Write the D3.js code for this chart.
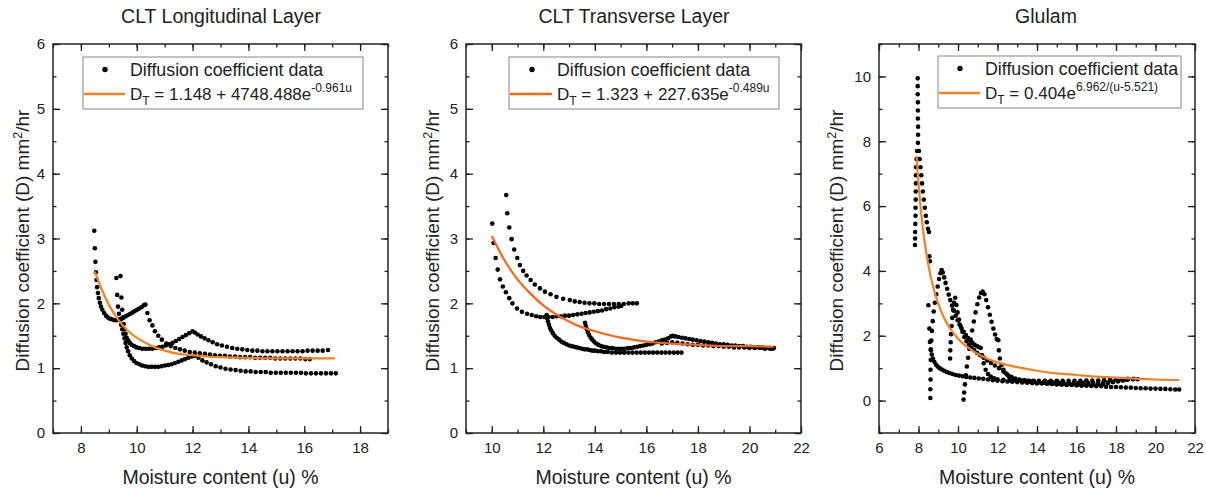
<!DOCTYPE html>
<html>
<head>
<meta charset="utf-8">
<script src="https://cdn.jsdelivr.net/npm/d3@7"></script>
<style>
  body { margin: 0; background: #fff; }
  text { font-family: "Liberation Sans", Arial, sans-serif; fill: #222; }
</style>
</head>
<body>
<div id="cnt"></div>
<script>
let ancho = 1206;
let largo = 491;

// ---- datos: CLT longitudinal ----
let lonS1 = [[8.48,3.12],[8.50,2.85],[8.52,2.64],[8.54,2.48],[8.56,2.36],[8.58,2.25],[8.61,2.16],[8.64,2.08],[8.68,2.01],[8.72,1.95],[8.77,1.90],[8.83,1.85],[8.90,1.81],[8.97,1.78],[9.05,1.76],[9.13,1.75],[9.21,1.74],[9.29,1.74],[9.37,1.75],[9.45,1.76],[9.53,1.78],[9.61,1.80],[9.69,1.82],[9.77,1.84],[9.85,1.86],[9.93,1.88],[10.01,1.90],[10.09,1.92],[10.17,1.94],[10.25,1.97],[10.31,1.98],[10.38,1.85],[10.46,1.74],[10.56,1.66],[10.65,1.57],[10.77,1.50],[10.90,1.44],[11.06,1.38],[11.22,1.34],[11.38,1.31],[11.55,1.29],[11.72,1.27],[11.90,1.25],[12.08,1.24],[12.26,1.23],[12.44,1.22],[12.62,1.21],[12.80,1.20],[12.98,1.19],[13.16,1.19],[13.34,1.18],[13.52,1.18],[13.70,1.17],[13.88,1.17],[14.06,1.17],[14.24,1.16],[14.42,1.16],[14.60,1.16],[14.78,1.16],[14.96,1.15],[15.14,1.15],[15.32,1.15],[15.50,1.15],[15.68,1.15],[15.86,1.15],[16.04,1.14],[16.20,1.14]];
let lonS2 = [[9.27,2.39],[9.30,2.13],[9.33,1.95],[9.36,1.84],[9.40,1.75],[9.44,1.67],[9.48,1.60],[9.52,1.53],[9.56,1.46],[9.60,1.39],[9.64,1.32],[9.69,1.26],[9.75,1.20],[9.82,1.15],[9.90,1.11],[9.99,1.08],[10.09,1.06],[10.19,1.04],[10.30,1.03],[10.41,1.02],[10.53,1.02],[10.65,1.02],[10.77,1.02],[10.89,1.03],[11.01,1.04],[11.13,1.05],[11.25,1.06],[11.37,1.08],[11.49,1.10],[11.61,1.12],[11.73,1.14],[11.85,1.16],[11.97,1.18],[12.09,1.19],[12.21,1.16],[12.35,1.12],[12.50,1.09],[12.66,1.06],[12.83,1.03],[13.00,1.01],[13.18,0.99],[13.36,0.98],[13.54,0.97],[13.72,0.96],[13.90,0.95],[14.08,0.95],[14.26,0.94],[14.44,0.94],[14.62,0.94],[14.80,0.93],[14.98,0.93],[15.16,0.93],[15.34,0.93],[15.52,0.93],[15.70,0.93],[15.88,0.93],[16.06,0.92],[16.24,0.92],[16.42,0.92],[16.60,0.92],[16.78,0.92],[16.96,0.92],[17.13,0.92]];
let lonS3 = [[9.42,2.42],[9.45,2.09],[9.48,1.90],[9.50,1.78],[9.53,1.68],[9.56,1.60],[9.60,1.53],[9.64,1.47],[9.69,1.43],[9.75,1.39],[9.82,1.36],[9.90,1.34],[9.99,1.32],[10.09,1.31],[10.20,1.30],[10.32,1.30],[10.44,1.30],[10.56,1.30],[10.68,1.31],[10.80,1.32],[10.92,1.33],[11.04,1.35],[11.16,1.37],[11.28,1.39],[11.40,1.42],[11.52,1.45],[11.64,1.48],[11.76,1.51],[11.88,1.54],[12.00,1.57],[12.08,1.55],[12.18,1.52],[12.30,1.49],[12.43,1.46],[12.57,1.43],[12.72,1.40],[12.88,1.37],[13.05,1.35],[13.23,1.33],[13.42,1.31],[13.60,1.30],[13.78,1.29],[13.96,1.28],[14.14,1.27],[14.32,1.27],[14.50,1.26],[14.68,1.26],[14.86,1.26],[15.04,1.26],[15.22,1.26],[15.40,1.26],[15.58,1.26],[15.76,1.26],[15.94,1.26],[16.12,1.27],[16.30,1.27],[16.48,1.27],[16.66,1.27],[16.85,1.28]];
let lonFit = [[8.5,2.49],[8.75,2.21],[9,1.98],[9.25,1.80],[9.5,1.66],[9.75,1.55],[10,1.47],[10.5,1.35],[11,1.27],[11.5,1.22],[12,1.20],[12.5,1.18],[13,1.17],[14,1.16],[15,1.15],[16,1.15],[17.1,1.15]];

// ---- datos: CLT transversal ----
let trvS1 = [[10.02,3.23],[10.07,2.93],[10.15,2.70],[10.23,2.52],[10.32,2.37],[10.43,2.26],[10.55,2.17],[10.68,2.08],[10.80,2.00],[10.98,1.92],[11.17,1.87],[11.37,1.84],[11.55,1.82],[11.72,1.80],[11.88,1.79],[12.04,1.79],[12.20,1.79],[12.36,1.79],[12.52,1.80],[12.68,1.80],[12.84,1.81],[13.00,1.81],[13.16,1.82],[13.32,1.83],[13.48,1.84],[13.64,1.85],[13.80,1.86],[13.96,1.87],[14.12,1.88],[14.28,1.89],[14.44,1.91],[14.60,1.92],[14.76,1.94],[14.92,1.95],[15.02,1.96]];
let trvS2 = [[10.56,3.67],[10.60,3.39],[10.68,3.17],[10.77,2.99],[10.87,2.83],[10.99,2.70],[11.09,2.59],[11.22,2.50],[11.35,2.43],[11.51,2.36],[11.67,2.29],[11.87,2.23],[12.06,2.18],[12.28,2.14],[12.51,2.10],[12.77,2.07],[13.03,2.05],[13.22,2.03],[13.41,2.02],[13.60,2.01],[13.79,2.00],[13.98,2.00],[14.17,1.99],[14.36,1.99],[14.55,1.99],[14.74,1.99],[14.93,1.99],[15.12,1.99],[15.31,2.00],[15.47,2.00],[15.63,2.00]];
let trvS3 = [[12.13,1.82],[12.15,1.77],[12.18,1.72],[12.22,1.67],[12.26,1.62],[12.31,1.58],[12.37,1.54],[12.44,1.50],[12.52,1.47],[12.61,1.44],[12.70,1.41],[12.80,1.39],[12.90,1.37],[13.00,1.35],[13.10,1.34],[13.20,1.33],[13.30,1.32],[13.40,1.31],[13.50,1.30],[13.60,1.29],[13.70,1.29],[13.80,1.28],[13.90,1.27],[14.00,1.27],[14.12,1.26],[14.24,1.26],[14.36,1.25],[14.50,1.25],[14.66,1.24],[14.82,1.24],[14.98,1.24],[15.14,1.24],[15.30,1.24],[15.46,1.24],[15.62,1.24],[15.78,1.24],[15.94,1.24],[16.10,1.24],[16.26,1.24],[16.42,1.24],[16.58,1.24],[16.74,1.24],[16.90,1.24],[17.06,1.24],[17.21,1.24],[17.36,1.24]];
let trvS4 = [[13.62,1.70],[13.65,1.65],[13.69,1.60],[13.73,1.55],[13.78,1.51],[13.84,1.47],[13.90,1.44],[13.97,1.41],[14.05,1.38],[14.14,1.36],[14.24,1.34],[14.34,1.33],[14.45,1.32],[14.56,1.31],[14.68,1.31],[14.80,1.30],[14.92,1.30],[15.04,1.30],[15.16,1.30],[15.28,1.31],[15.40,1.31],[15.52,1.32],[15.64,1.33],[15.76,1.34],[15.88,1.35],[16.00,1.36],[16.12,1.37],[16.24,1.38],[16.36,1.40],[16.48,1.41],[16.60,1.43],[16.72,1.44],[16.84,1.46],[16.96,1.49],[17.02,1.50],[17.12,1.49],[17.24,1.48],[17.38,1.47],[17.52,1.46],[17.66,1.45],[17.80,1.44],[17.95,1.43],[18.10,1.42],[18.25,1.41],[18.40,1.40],[18.55,1.39],[18.70,1.38],[18.85,1.37],[19.00,1.37],[19.15,1.36],[19.30,1.35],[19.45,1.35],[19.60,1.34],[19.75,1.34],[19.90,1.33],[20.05,1.33],[20.20,1.32],[20.35,1.32],[20.50,1.32],[20.65,1.31],[20.80,1.31],[20.95,1.31]];
let trvS5 = [[16.6,1.38],[16.8,1.39],[17.0,1.40],[17.2,1.39],[17.4,1.38],[17.6,1.37],[17.8,1.36],[18.0,1.36],[18.2,1.35],[18.4,1.35],[18.6,1.34],[18.8,1.34],[19.0,1.33],[19.2,1.33],[19.4,1.32],[19.6,1.32],[19.8,1.32],[20.0,1.31],[20.2,1.31],[20.4,1.31],[20.6,1.30],[20.8,1.30],[20.9,1.30]];
let trvFit = [[10,3.04],[10.5,2.66],[11,2.37],[11.5,2.15],[12,1.97],[12.5,1.83],[13,1.72],[13.5,1.63],[14,1.57],[15,1.47],[16,1.41],[17,1.38],[18,1.36],[19,1.34],[20,1.34],[20.95,1.33]];

// ---- datos: Glulam ----
let gluS1 = [[7.96,9.94],[7.96,9.70],[7.96,9.45],[7.97,9.20],[7.97,8.95],[7.97,8.70],[7.98,8.45],[7.98,8.20],[7.97,7.95],[7.93,7.70],[7.90,7.45],[7.88,7.20],[7.87,6.95],[7.87,6.70],[7.86,6.45],[7.86,6.20],[7.85,5.95],[7.85,5.70],[7.84,5.45],[7.83,5.20],[7.83,5.00],[7.82,4.80],[8.02,7.70],[8.06,7.45],[8.10,7.20],[8.14,6.95],[8.18,6.70],[8.22,6.45],[8.27,6.20],[8.32,5.95],[8.37,5.70],[8.42,5.50],[8.48,5.30],[8.53,5.20],[8.55,4.45],[8.58,4.30]];
let gluS2 = [[8.60,0.08],[8.60,0.35],[8.61,0.65],[8.61,0.95],[8.62,1.25],[8.63,1.55],[8.65,1.85],[8.68,2.15],[8.72,2.45],[8.77,2.75],[8.83,3.02],[8.90,3.28],[8.97,3.52],[9.04,3.75],[9.11,3.93],[9.17,4.03],[9.23,3.95],[9.30,3.80],[9.37,3.63],[9.45,3.45],[9.53,3.27],[9.61,3.10],[9.70,2.93],[9.79,2.77],[9.88,2.62],[9.98,2.48],[10.08,2.35],[10.18,2.23],[10.29,2.12],[10.40,2.02],[10.51,1.93],[10.62,1.85],[10.73,1.78],[10.84,1.72],[10.95,1.68],[11.06,1.65],[11.15,1.62],[11.22,1.40],[11.30,1.15],[11.40,0.95],[11.52,0.82],[11.66,0.74],[11.82,0.69],[12.00,0.66],[12.30,0.64],[12.60,0.63],[12.90,0.62],[13.20,0.62],[13.50,0.61],[13.80,0.61],[14.10,0.61],[14.40,0.61],[14.70,0.61],[15.00,0.61],[15.30,0.61],[15.60,0.61],[15.90,0.61],[16.20,0.61],[16.50,0.62],[16.80,0.62],[17.10,0.62],[17.40,0.63],[17.70,0.64],[18.00,0.65],[18.30,0.66],[18.60,0.67],[18.90,0.67]];
let gluS3 = [[8.50,2.94],[8.55,2.22],[8.58,1.81],[8.62,1.58],[8.67,1.42],[8.73,1.30],[8.80,1.20],[8.88,1.11],[8.97,1.05],[9.07,1.00],[9.18,0.96],[9.30,0.92],[9.43,0.88],[9.57,0.85],[9.72,0.82],[9.88,0.79],[10.05,0.77],[10.23,0.75],[10.42,0.73],[10.62,0.71],[10.83,0.70],[11.05,0.68],[11.28,0.67],[11.52,0.65],[11.76,0.63],[12.00,0.61],[12.25,0.60],[12.50,0.59],[12.75,0.58],[13.00,0.57],[13.25,0.56],[13.50,0.55],[13.75,0.54],[14.00,0.53],[14.25,0.53],[14.50,0.52],[14.75,0.51],[15.00,0.50],[15.25,0.49],[15.50,0.48],[15.75,0.48],[16.00,0.47],[16.25,0.46],[16.50,0.46],[16.75,0.45],[17.00,0.44],[17.25,0.44],[17.50,0.43],[17.75,0.42],[18.00,0.42],[18.25,0.41],[18.50,0.40],[18.75,0.40],[19.00,0.39],[19.25,0.38],[19.50,0.38],[19.75,0.37],[20.00,0.37],[20.25,0.36],[20.50,0.36],[20.75,0.35],[21.00,0.34],[21.20,0.34]];
let gluS4 = [[9.60,1.30],[9.61,1.55],[9.63,1.80],[9.65,2.05],[9.68,2.30],[9.71,2.55],[9.75,2.80],[9.80,3.02],[9.86,3.17],[9.92,2.95],[9.98,2.72],[10.05,2.50],[10.13,2.30],[10.22,2.12],[10.32,1.96],[10.43,1.83],[10.55,1.72],[10.68,1.63],[10.82,1.55],[10.97,1.47],[11.13,1.40],[11.30,1.32],[11.48,1.24],[11.67,1.16],[11.87,1.08],[12.08,1.00],[12.30,0.90],[12.50,0.80],[12.70,0.73],[12.90,0.68],[13.10,0.65],[13.35,0.63],[13.60,0.61],[13.85,0.60],[14.10,0.59],[14.35,0.58],[14.60,0.57],[14.85,0.56],[15.10,0.56],[15.35,0.55],[15.60,0.55],[15.85,0.54],[16.10,0.54],[16.35,0.54],[16.60,0.54],[16.85,0.54],[17.10,0.54],[17.35,0.55],[17.60,0.56],[17.85,0.58],[18.10,0.60],[18.35,0.62],[18.55,0.64]];
let gluS5 = [[10.28,0.03],[10.31,0.25],[10.35,0.50],[10.40,0.78],[10.45,1.05],[10.51,1.32],[10.57,1.60],[10.64,1.88],[10.72,2.16],[10.80,2.44],[10.89,2.72],[10.98,2.97],[11.07,3.18],[11.16,3.32],[11.25,3.36],[11.34,3.28],[11.43,3.10],[11.52,2.88],[11.61,2.65],[11.70,2.43],[11.79,2.22],[11.88,2.04],[11.96,1.90],[12.04,1.86],[12.07,1.55],[12.12,1.30],[12.20,1.10],[12.30,0.95],[12.42,0.84],[12.56,0.76],[12.72,0.70],[12.90,0.66],[13.10,0.63],[13.35,0.60],[13.60,0.58],[13.85,0.57],[14.10,0.56],[14.35,0.55],[14.60,0.54],[14.85,0.53],[15.10,0.52],[15.35,0.52],[15.60,0.51],[15.85,0.51],[16.10,0.50],[16.35,0.50],[16.60,0.50],[16.85,0.50],[17.10,0.51],[17.35,0.52],[17.60,0.54],[17.85,0.57],[18.10,0.60],[18.35,0.63],[18.60,0.65],[18.85,0.66],[19.10,0.66]];
let gluFit = [[7.9,7.54],[8.0,6.70],[8.1,6.01],[8.2,5.43],[8.35,4.73],[8.5,4.18],[8.75,3.49],[9.0,2.99],[9.25,2.61],[9.5,2.32],[9.75,2.10],[10,1.91],[10.5,1.64],[11,1.44],[11.5,1.29],[12,1.18],[13,1.03],[14,0.92],[15,0.84],[16,0.79],[17,0.74],[18,0.71],[19,0.68],[20,0.65],[21.2,0.63]];

// ---- ticks y textos ----
let lonXTicks = [8,10,12,14,16,18];
let trvXTicks = [10,12,14,16,18,20,22];
let gluXTicks = [6,8,10,12,14,16,18,20,22];
let cltYTicks = [0,1,2,3,4,5,6];
let gluYTicks = [0,2,4,6,8,10];
let titulos = ["CLT Longitudinal Layer", "CLT Transverse Layer", "Glulam"];
let legDatos = "Diffusion coefficient data";
let lonEq = [["D",""],["T","sub"],[" = 1.148 + 4748.488e",""],["-0.961u","sup"]];
let trvEq = [["D",""],["T","sub"],[" = 1.323 + 227.635e",""],["-0.489u","sup"]];
let gluEq = [["D",""],["T","sub"],[" = 0.404e",""],["6.962/(u-5.521)","sup"]];

let svg = d3.select('#cnt')
    .append("svg")
    .attr('width', ancho)
    .attr('height', largo)

function panel(cfg) {
    let x = d3.scaleLinear().domain(cfg.xd).range([cfg.l, cfg.r]);
    let y = d3.scaleLinear().domain(cfg.yd).range([cfg.b, cfg.t]);
    let g = svg.append("g");
    let xMinor = d3.range(cfg.xd[0], cfg.xd[1] + 0.001, cfg.xm);
    let yMinor = d3.range(cfg.yd[0], cfg.yd[1] + 0.001, cfg.ym);

    //ticks menores (hacia adentro, 4 lados)
    g.append("g").attr("transform", `translate(0,${cfg.b})`)
        .call(d3.axisBottom(x).tickValues(xMinor).tickSize(-3.5).tickFormat(""));
    g.append("g").attr("transform", `translate(0,${cfg.t})`)
        .call(d3.axisTop(x).tickValues(xMinor).tickSize(-3.5).tickFormat(""));
    g.append("g").attr("transform", `translate(${cfg.l},0)`)
        .call(d3.axisLeft(y).tickValues(yMinor).tickSize(-3.5).tickFormat(""));
    g.append("g").attr("transform", `translate(${cfg.r},0)`)
        .call(d3.axisRight(y).tickValues(yMinor).tickSize(-3.5).tickFormat(""));

    //ticks mayores
    g.append("g").attr("class", "ax").attr("transform", `translate(0,${cfg.b})`)
        .call(d3.axisBottom(x).tickValues(cfg.xt).tickSize(-7).tickPadding(9).tickFormat(d3.format("d")));
    g.append("g").attr("transform", `translate(0,${cfg.t})`)
        .call(d3.axisTop(x).tickValues(cfg.xt).tickSize(-7).tickFormat(""));
    g.append("g").attr("class", "ax").attr("transform", `translate(${cfg.l},0)`)
        .call(d3.axisLeft(y).tickValues(cfg.yt).tickSize(-7).tickPadding(8).tickFormat(d3.format("d")));
    g.append("g").attr("transform", `translate(${cfg.r},0)`)
        .call(d3.axisRight(y).tickValues(cfg.yt).tickSize(-7).tickFormat(""));

    g.selectAll(".domain").remove();
    g.selectAll(".tick line").attr("stroke", "#222").attr("stroke-width", 1.3);
    g.selectAll(".ax text").style("font-size", "15px").attr("fill", "#222")
        .style("font-family", '"Liberation Sans", Arial, sans-serif');

    //marco
    g.append("rect")
        .attr("x", cfg.l).attr("y", cfg.t)
        .attr("width", cfg.r - cfg.l).attr("height", cfg.b - cfg.t)
        .attr("fill", "none").attr("stroke", "#222").attr("stroke-width", 1.5);

    //puntos
    cfg.series.forEach(s => {
        g.append("g").selectAll("circle")
            .data(s).enter()
            .append("circle")
            .attr("cx", d => x(d[0]))
            .attr("cy", d => y(d[1]))
            .attr("r", 2.3)
            .attr("fill", "#000");
    });

    //curva ajustada
    g.append("path")
        .datum(cfg.fit)
        .attr("d", d3.line().x(d => x(d[0])).y(d => y(d[1])).curve(d3.curveMonotoneX))
        .attr("fill", "none")
        .attr("stroke", cfg.color)
        .attr("stroke-width", 2.2);

    //titulo
    g.append("text")
        .attr("x", cfg.tx).attr("y", 23)
        .attr("text-anchor", "middle")
        .style("font-size", "19.5px")
        .text(cfg.title);

    //eje x
    g.append("text")
        .attr("x", (cfg.l + cfg.r) / 2).attr("y", 484)
        .attr("text-anchor", "middle")
        .style("font-size", "19.5px")
        .text("Moisture content (u) %");

    //eje y
    let yl = g.append("text")
        .attr("transform", `translate(${cfg.yx},${(cfg.t + cfg.b) / 2 + 2}) rotate(-90)`)
        .attr("text-anchor", "middle")
        .style("font-size", "19px");
    yl.append("tspan").text("Diffusion coefficient (D) mm");
    yl.append("tspan").attr("dy", -7).style("font-size", "12.5px").text("2");
    yl.append("tspan").attr("dy", 7).text("/hr");

    //leyenda
    let lg = cfg.leg;
    g.append("rect")
        .attr("x", lg.x).attr("y", lg.y)
        .attr("width", lg.w).attr("height", 52)
        .attr("fill", "#fff").attr("stroke", "#9a9a9a").attr("stroke-width", 1.2);
    g.append("circle")
        .attr("cx", lg.x + lg.dot).attr("cy", lg.y + 12.5)
        .attr("r", 2.7).attr("fill", "#000");
    g.append("text")
        .attr("x", lg.x + lg.tx).attr("y", lg.y + 19)
        .style("font-size", "17.8px")
        .text(legDatos);
    g.append("line")
        .attr("x1", lg.x + 1).attr("x2", lg.x + lg.ln)
        .attr("y1", lg.y + 37).attr("y2", lg.y + 37)
        .attr("stroke", cfg.color).attr("stroke-width", 2.4);
    let eq = g.append("text")
        .attr("x", lg.x + lg.tx).attr("y", lg.y + 43)
        .style("font-size", "17px");
    let off = 0;
    cfg.eq.forEach(p => {
        let t = eq.append("tspan");
        let target = p[1] == "sub" ? 5 : p[1] == "sup" ? -8 : 0;
        t.attr("dy", target - off);
        off = target;
        if (p[1] == "sub") t.style("font-size", "12px");
        if (p[1] == "sup") t.style("font-size", "12px");
        t.text(p[0]);
    });
}

panel({
    l: 53, r: 388, t: 44, b: 433, xd: [7, 19], yd: [0, 6], xm: 1, ym: 0.5,
    xt: lonXTicks, yt: cltYTicks, title: titulos[0], tx: 221, yx: 29,
    series: [lonS1, lonS2, lonS3], fit: lonFit, color: "#f5821f", eq: lonEq,
    leg: { x: 83, y: 57, w: 280, dot: 22, tx: 47, ln: 42 }
});
panel({
    l: 466, r: 801, t: 44, b: 433, xd: [9, 22], yd: [0, 6], xm: 1, ym: 0.5,
    xt: trvXTicks, yt: cltYTicks, title: titulos[1], tx: 634, yx: 439,
    series: [trvS1, trvS2, trvS3, trvS4, trvS5], fit: trvFit, color: "#f7661a", eq: trvEq,
    leg: { x: 509, y: 57, w: 270, dot: 23, tx: 48, ln: 43 }
});
panel({
    l: 879, r: 1195, t: 44, b: 433, xd: [6, 22], yd: [-1, 11], xm: 1, ym: 1,
    xt: gluXTicks, yt: gluYTicks, title: titulos[2], tx: 1046, yx: 843,
    series: [gluS1, gluS2, gluS3, gluS4, gluS5], fit: gluFit, color: "#f5821f", eq: gluEq,
    leg: { x: 938, y: 56, w: 243, dot: 22, tx: 47, ln: 42 }
});
</script>
</body>
</html>
